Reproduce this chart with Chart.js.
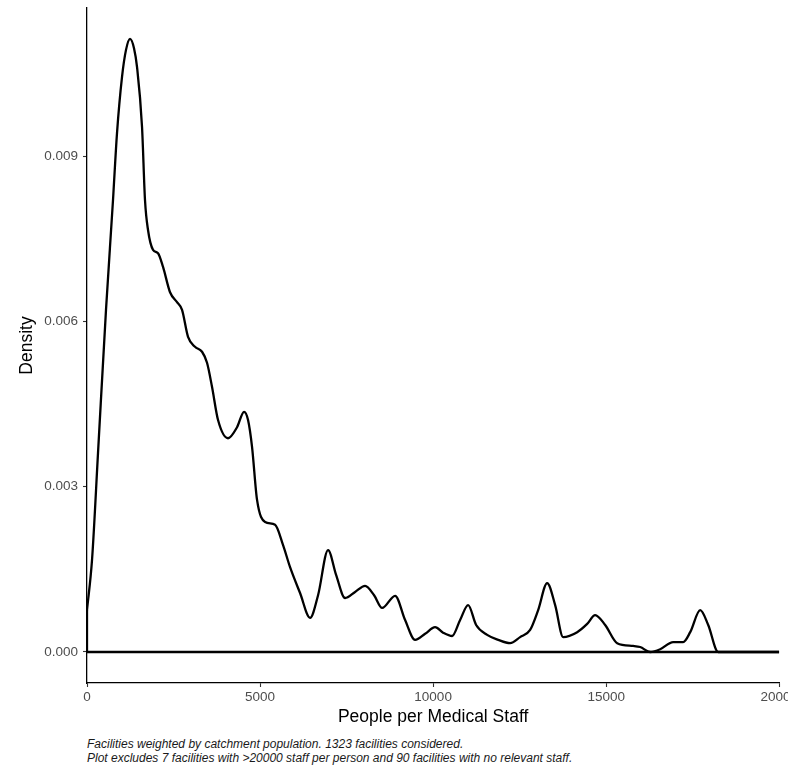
<!DOCTYPE html>
<html>
<head>
<meta charset="utf-8">
<script src="https://cdn.jsdelivr.net/npm/chart.js@4"></script>
<style>
  html, body { margin: 0; padding: 0; background: #fff; overflow: hidden; }
  #wrap { position: relative; width: 800px; height: 730px; }
  #caption {
    position: absolute; left: 87px; top: 737px;
    font: italic 12px "Liberation Sans", Arial, sans-serif;
    line-height: 14px; color: #1a1a1a; white-space: nowrap;
  }
</style>
</head>
<body>
<div id="wrap"><canvas id="densityChart"></canvas></div>
<div id="caption">
  Facilities weighted by catchment population. 1323 facilities considered.<br>
  Plot excludes 7 facilities with &gt;20000 staff per person and 90 facilities with no relevant staff.
</div>
<script>
// DATA
const peoplePerStaff = [
  0, 145, 318, 549, 751, 867, 1012, 1127, 1243, 1358, 1445, 1590, 1676, 1763,
  1908, 2052, 2197, 2399, 2601, 2746, 2919, 3121, 3324, 3468, 3613, 3786, 4075,
  4335, 4538, 4653, 4769, 4913, 5145, 5434, 5665, 5867, 6156, 6445, 6676, 6965,
  7197, 7457, 7746, 8035, 8295, 8526, 8902, 9191, 9480, 9769, 10058, 10289,
  10549, 10780, 11012, 11243, 11561, 11879, 12225, 12514, 12803, 13035, 13295,
  13526, 13757, 14162, 14451, 14682, 14971, 15318, 15780, 15983, 16272, 16561,
  16936, 17225, 17428, 17717, 17948, 18237, 18439, 20000
];
const density = [
  0.00076, 0.00167, 0.00361, 0.00621, 0.00820, 0.00942, 0.01044, 0.01093,
  0.01113, 0.01096, 0.01062, 0.00953, 0.00820, 0.00766, 0.00730, 0.00724,
  0.00699, 0.00653, 0.00635, 0.00621, 0.00572, 0.00554, 0.00545, 0.00525,
  0.00481, 0.00421, 0.00388, 0.00408, 0.00436, 0.00421, 0.00372, 0.00276,
  0.00236, 0.00231, 0.00194, 0.00154, 0.00107, 0.00062, 0.00103, 0.00185,
  0.00140, 0.00098, 0.00109, 0.00120, 0.00103, 0.00080, 0.00102, 0.00058,
  0.00022, 0.00033, 0.00045, 0.00035, 0.00029, 0.00058, 0.00085, 0.00049,
  0.00031, 0.00022, 0.00016, 0.00027, 0.00040, 0.00076, 0.00125, 0.00085,
  0.00027, 0.00036, 0.00051, 0.00067, 0.00049, 0.00016, 0.00011, 0.00009,
  0.00000, 0.00005, 0.00018, 0.00018, 0.00036, 0.00076, 0.00049, 0.00000,
  0.00000, 0.00000
];
const xTicks = [0, 5000, 10000, 15000, 20000];
const yTicks = [0, 0.003, 0.006, 0.009];

const curve = peoplePerStaff.map((x, i) => ({ x, y: density[i] }));
const baseline = [
  { x: peoplePerStaff[0], y: density[0] },
  { x: peoplePerStaff[0], y: 0 },
  { x: peoplePerStaff[peoplePerStaff.length - 1], y: 0 }
];

const tickFont = { family: "'Liberation Sans', Arial, sans-serif", size: 13.5 };
const titleFont = { family: "'Liberation Sans', Arial, sans-serif", size: 17.5 };

new Chart(document.getElementById("densityChart"), {
  type: "line",
  data: {
    datasets: [
      {
        data: curve,
        borderColor: "#000",
        borderWidth: 2.3,
        pointRadius: 0,
        cubicInterpolationMode: "monotone",
        fill: false
      },
      {
        data: baseline,
        borderColor: "#000",
        borderWidth: 2.3,
        pointRadius: 0,
        tension: 0,
        fill: false
      }
    ]
  },
  options: {
    responsive: true,
    maintainAspectRatio: false,
    animation: false,
    layout: { padding: { top: 8, right: 0, left: 0, bottom: 0 } },
    plugins: {
      legend: { display: false },
      tooltip: { enabled: false }
    },
    scales: {
      x: {
        type: "linear",
        min: 0,
        max: 20000,
        afterBuildTicks: (s) => { s.ticks = xTicks.map(v => ({ value: v })); },
        afterFit: (s) => { s.height = 47; },
        border: { display: true, color: "#000", width: 1.3 },
        grid: { display: true, drawOnChartArea: false, tickLength: 4, color: "#333", tickWidth: 1.1 },
        ticks: { color: "#4d4d4d", font: tickFont, padding: 2, maxRotation: 0, autoSkip: false,
                 callback: (v) => String(v) },
        title: { display: true, text: "People per Medical Staff", color: "#000",
                 font: titleFont, padding: { top: 0, bottom: 2.5 } }
      },
      y: {
        type: "linear",
        min: -0.000563,
        max: 0.01169,
        afterBuildTicks: (s) => { s.ticks = yTicks.map(v => ({ value: v })); },
        // ticks sit well inside the range, so no extra room for label overhang
        afterFit: (s) => { s.width = 87; s.paddingTop = 0; s.paddingBottom = 0; },
        border: { display: true, color: "#000", width: 1.3 },
        grid: { display: true, drawOnChartArea: false, tickLength: 4, color: "#333", tickWidth: 1.1 },
        ticks: { color: "#4d4d4d", font: tickFont, padding: 5,
                 callback: (v) => Number(v).toFixed(3) },
        title: { display: true, text: "Density", color: "#000",
                 font: titleFont, padding: { top: 16.5, bottom: 4 } }
      }
    }
  }
});
</script>
</body>
</html>
